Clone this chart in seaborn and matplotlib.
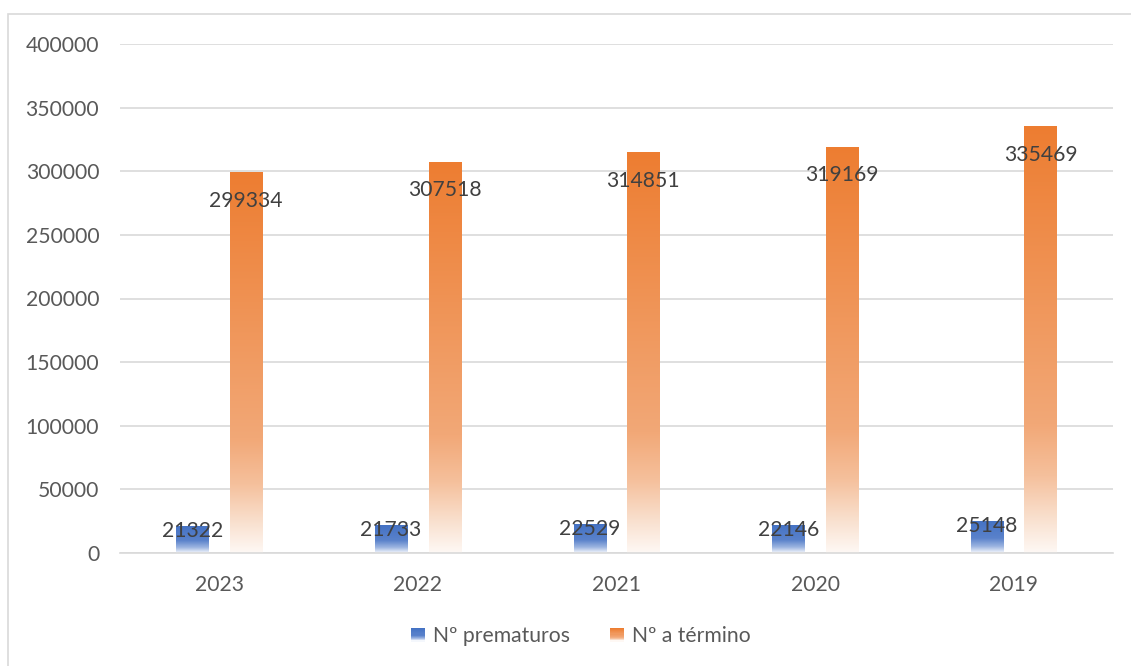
import numpy as np
import pandas as pd
import matplotlib
matplotlib.use("Agg")
import matplotlib.pyplot as plt
from matplotlib.colors import LinearSegmentedColormap
from matplotlib.patches import Rectangle
from matplotlib.legend_handler import HandlerBase
import seaborn as sns

# Births by year
years = ["2023", "2022", "2021", "2020", "2019"]
prematuros = [21322, 21733, 22529, 22146, 25148]
termino = [299334, 307518, 314851, 319169, 335469]
series_names = ["Nº prematuros", "Nº a término"]

df = pd.DataFrame({
    "Año": years * 2,
    "Serie": [series_names[0]] * len(years) + [series_names[1]] * len(years),
    "Valor": prematuros + termino,
})

sns.set_theme(style="white")
plt.rcParams["font.family"] = ["Lato", "DejaVu Sans"]
FS = 15.2

blue_cmap = LinearSegmentedColormap.from_list(
    "blue_fade",
    [(0.0, "#4472C4"), (0.55, "#5A82CB"), (0.8, "#9DB5E1"), (1.0, "#F4F7FC")])
orange_cmap = LinearSegmentedColormap.from_list(
    "orange_fade",
    [(0.0, "#ED7D31"), (0.7, "#F2A877"), (0.82, "#F5C09C"), (0.92, "#F9E0CE"), (1.0, "#FEF8F4")])
cmaps = {series_names[0]: blue_cmap, series_names[1]: orange_cmap}

fig = plt.figure(figsize=(11.31, 6.66), dpi=100)
W, H = 1131, 666
ax = fig.add_axes([120 / W, 1 - 553 / H, (1113 - 120) / W, (553 - 44) / H])

sns.barplot(data=df, x="Año", y="Valor", hue="Serie", order=years,
            hue_order=series_names, palette=["#4472C4", "#ED7D31"],
            width=0.54, gap=0.4, ax=ax, legend=False, errorbar=None)

ax.set_ylim(0, 400000)
ax.set_xlim(-0.5, len(years) - 0.5)
ax.set_yticks(np.arange(0, 400001, 50000))
ax.yaxis.grid(True, color="#D9D9D9", linewidth=1.2)
ax.set_axisbelow(True)
for side in ["left", "right", "top"]:
    ax.spines[side].set_visible(False)
ax.spines["bottom"].set_color("#D9D9D9")
ax.spines["bottom"].set_linewidth(1.2)
ax.tick_params(axis="both", length=0, labelsize=FS, colors="#595959")
ax.tick_params(axis="y", pad=15)
ax.tick_params(axis="x", pad=15.5)
ax.set_xlabel("")
ax.set_ylabel("")

# Gradient fill for each bar, fading toward the baseline
gradient = np.linspace(0, 1, 256).reshape(-1, 1)
for container, name, vals in zip(ax.containers, series_names, [prematuros, termino]):
    for patch, v in zip(container.patches, vals):
        x0 = patch.get_x()
        w = patch.get_width()
        patch.set_facecolor("none")
        patch.set_edgecolor("none")
        im = ax.imshow(gradient, cmap=cmaps[name], aspect="auto",
                       extent=[x0, x0 + w, 0, v], origin="upper",
                       interpolation="bilinear", zorder=2)
        im.set_clip_path(patch)
        offset = -20.5 if name == series_names[1] else -3.5
        ax.annotate(f"{v}", (x0 + w / 2, v), xytext=(0, offset),
                    textcoords="offset points", ha="center", va="center",
                    fontsize=FS, color="#404040", zorder=5)

ax.set_ylim(0, 400000)
ax.set_xlim(-0.5, len(years) - 0.5)


class GradientHandler(HandlerBase):
    def __init__(self, cmap):
        super().__init__()
        self.cmap = cmap

    def create_artists(self, legend, orig_handle, xdescent, ydescent,
                       width, height, fontsize, trans):
        n = 12
        side = height * 0.9
        x = -xdescent + (width - side)
        y = -ydescent + (height - side) / 2
        arts = []
        for i in range(n):
            t = i / (n - 1)
            r = Rectangle((x, y + side * (1 - (i + 1) / n)), side, side / n,
                          facecolor=self.cmap(t), edgecolor="none",
                          transform=trans)
            arts.append(r)
        return arts


handles = [Rectangle((0, 0), 1, 1), Rectangle((0, 0), 1, 1)]
fig.legend(handles, series_names, loc="center", bbox_to_anchor=(580 / W, 1 - 636 / H),
           ncol=2, frameon=False, fontsize=FS, labelcolor="#595959",
           handlelength=0.75, handleheight=0.75, handletextpad=0.4, columnspacing=1.8,
           handler_map={handles[0]: GradientHandler(blue_cmap),
                        handles[1]: GradientHandler(orange_cmap)})

# Chart-area frame
fig.patches.append(Rectangle((8 / W, -0.05), 1.2, 1 - 14 / H + 0.05,
                             transform=fig.transFigure, facecolor="none",
                             edgecolor="#D9D9D9", linewidth=1.2))

fig.savefig("out.png", dpi=100)
